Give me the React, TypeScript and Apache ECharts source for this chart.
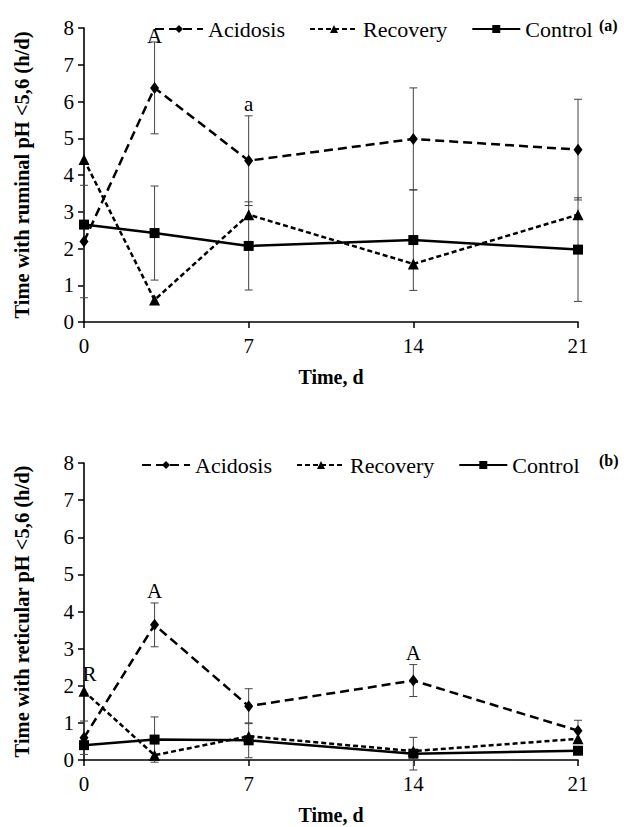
import React, { useEffect, useRef } from "react";
import * as echarts from "echarts";

// ---------- data ----------
const days = [0, 3, 7, 14, 21];
const xTicks = [0, 7, 14, 21];

// Panel (a): ruminal pH
const ruminalAcidosis = [2.19, 6.37, 4.39, 4.98, 4.69];
const ruminalRecovery = [4.42, 0.6, 2.92, 1.58, 2.92];
const ruminalControl = [2.65, 2.42, 2.07, 2.23, 1.97];
const ruminalAcidosisErr = [1.53, 1.25, 1.22, 1.39, 1.37];
const ruminalControlErr = [null, 1.28, 1.2, 1.37, 1.41];
const ruminalAcidosisLetters = ["", "A", "a", "", ""];
const ruminalRecoveryLetters = ["", "", "", "", ""];

// Panel (b): reticular pH
const reticularAcidosis = [0.6, 3.64, 1.45, 2.14, 0.79];
const reticularRecovery = [1.85, 0.13, 0.64, 0.24, 0.57];
const reticularControl = [0.4, 0.55, 0.53, 0.17, 0.25];
const reticularAcidosisErr = [0.45, 0.59, 0.47, 0.43, 0.28];
const reticularControlErr = [null, 0.61, 0.47, 0.44, null];
const reticularAcidosisLetters = ["", "A", "", "A", ""];
const reticularRecoveryLetters = ["R", "", "", "", ""];

const seriesNames = ["Acidosis", "Recovery", "Control"];
const panelTags = ["(a)", "(b)"];
const yTitles = [
  "Time with ruminal pH <5,6 (h/d)",
  "Time with reticular pH <5,6 (h/d)",
];
const xTitle = "Time, d";

const FONT = "'Liberation Serif', 'Times New Roman', serif";

function pairs(vals: number[]) {
  return days.map((d, i) => [d, vals[i]]);
}

function errData(vals: number[], errs: (number | null)[]) {
  const out: number[][] = [];
  days.forEach((d, i) => {
    const e = errs[i];
    if (e != null) out.push([d, vals[i] - e, vals[i] + e]);
  });
  return out;
}

function errSeries(
  idx: number,
  vals: number[],
  errs: (number | null)[],
  letters: string[] | null
) {
  const data = errData(vals, errs);
  return {
    type: "custom",
    xAxisIndex: idx,
    yAxisIndex: idx,
    z: 1,
    silent: true,
    encode: { x: 0, y: [1, 2] },
    data,
    renderItem: (params: any, api: any) => {
      const x = api.value(0);
      const lo = api.value(1);
      const hi = api.value(2);
      const t = api.coord([x, hi]);
      const b = api.coord([x, lo]);
      const hw = 4;
      const st = { stroke: "#444", lineWidth: 1 };
      const children: any[] = [
        { type: "line", shape: { x1: t[0], y1: t[1], x2: b[0], y2: b[1] }, style: st },
        { type: "line", shape: { x1: t[0] - hw, y1: t[1], x2: t[0] + hw, y2: t[1] }, style: st },
        { type: "line", shape: { x1: b[0] - hw, y1: b[1], x2: b[0] + hw, y2: b[1] }, style: st },
      ];
      if (letters) {
        const di = days.indexOf(x);
        const txt = letters[di];
        if (txt) {
          children.push({
            type: "text",
            x: t[0],
            y: Math.max(t[1] - 1, 46),
            z2: 10,
            style: {
              text: txt,
              fill: "#000",
              font: `21px ${FONT}`,
              align: "center",
              verticalAlign: "bottom",
            },
          });
        }
      }
      return { type: "group", children };
    },
  };
}

function lineSeries(idx: number, kind: number, vals: number[], letters: string[]) {
  const styles = [
    { type: [9, 5], symbol: "diamond", size: [9, 12] },
    { type: [5, 3], symbol: "triangle", size: 11 },
    { type: "solid", symbol: "rect", size: 10 },
  ][kind];
  return {
    type: "line",
    name: seriesNames[kind],
    xAxisIndex: idx,
    yAxisIndex: idx,
    z: 3,
    symbol: styles.symbol,
    symbolSize: styles.size,
    itemStyle: { color: "#000" },
    lineStyle: { color: "#000", width: 2.5, type: styles.type },
    data: pairs(vals).map((p, i) =>
      letters[i]
        ? {
            value: p,
            label: {
              show: true,
              formatter: letters[i],
              position: [4, -22],
              color: "#000",
              fontFamily: FONT,
              fontSize: 21,
            },
          }
        : { value: p }
    ),
  };
}

function xAxis(idx: number) {
  return {
    type: "value",
    gridIndex: idx,
    min: 0,
    max: 21,
    interval: 7,
    name: xTitle,
    nameLocation: "middle",
    nameGap: 45,
    nameTextStyle: { fontFamily: FONT, fontSize: 20, fontWeight: "bold", color: "#000" },
    axisLine: { lineStyle: { color: "#000", width: 1.6 } },
    axisTick: { show: true, length: 6, lineStyle: { color: "#000", width: 1.5 } },
    axisLabel: {
      fontFamily: FONT,
      fontSize: 21,
      color: "#000",
      margin: 13,
      showMinLabel: true,
      showMaxLabel: true,
      customValues: xTicks,
    },
    splitLine: { show: false },
  };
}

function yAxis(idx: number) {
  return {
    type: "value",
    gridIndex: idx,
    min: 0,
    max: 8,
    interval: 1,
    name: yTitles[idx],
    nameLocation: "middle",
    nameGap: 52,
    nameTextStyle: { fontFamily: FONT, fontSize: 20.5, fontWeight: "bold", color: "#000" },
    axisLine: { show: true, lineStyle: { color: "#000", width: 1.6 } },
    axisTick: { show: true, length: 6, lineStyle: { color: "#000", width: 1.5 } },
    axisLabel: { fontFamily: FONT, fontSize: 21, color: "#000", margin: 10 },
    splitLine: { show: false },
  };
}

function legend(idx: number, left: number, top: number) {
  return {
    left,
    top,
    orient: "horizontal",
    itemGap: 24,
    itemWidth: 48,
    itemHeight: 10,
    data: seriesNames,
    textStyle: { fontFamily: FONT, fontSize: 22, color: "#000" },
    selectedMode: false,
  };
}

export default function App() {
  const ref = useRef<HTMLDivElement>(null);
  useEffect(() => {
    if (!ref.current) return;
    const chart = echarts.init(ref.current, null, { renderer: "svg" });
    const option: any = {
      animation: false,
      backgroundColor: "#fff",
      textStyle: { fontFamily: FONT },
      title: [
        { text: panelTags[0], left: 594, top: 12, textStyle: { fontFamily: FONT, fontSize: 16, fontWeight: "bold", color: "#000" } },
        { text: panelTags[1], left: 594, top: 447, textStyle: { fontFamily: FONT, fontSize: 16, fontWeight: "bold", color: "#000" } },
      ],
      legend: [legend(0, 149, 13), legend(1, 136, 449)],
      grid: [
        { left: 84, top: 28, width: 494, height: 294 },
        { left: 84, top: 463, width: 494, height: 297 },
      ],
      xAxis: [xAxis(0), xAxis(1)],
      yAxis: [yAxis(0), yAxis(1)],
      series: [
        errSeries(0, ruminalAcidosis, ruminalAcidosisErr, ruminalAcidosisLetters),
        errSeries(0, ruminalControl, ruminalControlErr, null),
        lineSeries(0, 0, ruminalAcidosis, ["", "", "", "", ""]),
        lineSeries(0, 1, ruminalRecovery, ruminalRecoveryLetters),
        lineSeries(0, 2, ruminalControl, ["", "", "", "", ""]),
        errSeries(1, reticularAcidosis, reticularAcidosisErr, reticularAcidosisLetters),
        errSeries(1, reticularControl, reticularControlErr, null),
        lineSeries(1, 0, reticularAcidosis, ["", "", "", "", ""]),
        lineSeries(1, 1, reticularRecovery, reticularRecoveryLetters),
        lineSeries(1, 2, reticularControl, ["", "", "", "", ""]),
      ],
    };
    chart.setOption(option);
    return () => chart.dispose();
  }, []);
  return (
    <div
      ref={ref}
      style={{ position: "fixed", left: 0, top: 0, width: 624, height: 827, background: "#fff" }}
    />
  );
}
